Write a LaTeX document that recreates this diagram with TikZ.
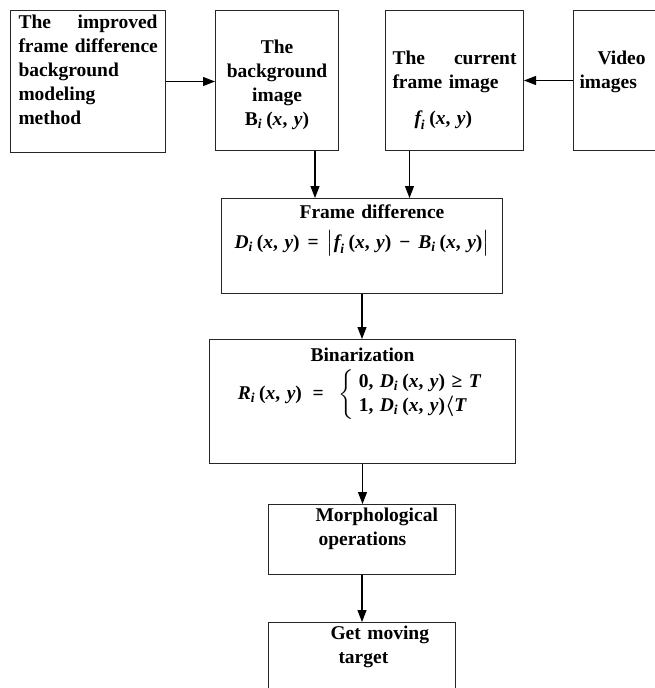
\documentclass[tikz,border=0pt]{standalone}
\usepackage{amsmath}
\usepackage{fontspec}
\setmainfont{Liberation Serif}
\usetikzlibrary{arrows.meta, positioning, calc}

\newcommand{\vi}[1]{\textit{#1}}
\newcommand{\xyarg}{\textup{(}\vi{x}\textup{, }\vi{y}\textup{)}}

\tikzset{
  procbox/.style={draw=black!85, line width=1pt, anchor=north west, inner ysep=0pt,
    font=\bfseries\fontsize{19.5}{24}\selectfont},
  flow/.style={-{Triangle[length=12pt,width=9pt]}, line width=1.1pt}
}

\begin{document}
\begin{tikzpicture}[x=1pt, y=-1pt]
		\useasboundingbox (0,0) rectangle (655,688);
		
		\node[procbox, inner xsep=8pt, text width=139pt, align=left, text height=18pt, text depth=124pt] (improved) at (10,10)
			{The\hfill improved\\\mbox{frame difference}\\background\\modeling\\method};
		\node[procbox, inner xsep=4pt, text width=115pt, align=center, text height=43pt, text depth=97pt] (background) at (215,10)
			{The\\background\\image\\{\boldmath$\textup{B}_{\vi{i}}\,\xyarg$}};
		\node[procbox, inner xsep=7pt, text width=124pt, align=left, text height=54pt, text depth=86pt] (current) at (385,10)
			{The\hfill current\\frame image\\[12pt]\hspace*{22pt}{\boldmath$\vi{f}_{\vi{i}}\,\xyarg$}};
		\node[procbox, inner xsep=6pt, text width=88pt, align=left, text height=54pt, text depth=86pt] (video) at (573,10)
			{\hspace*{18pt}Video\\images};
		\node[procbox, inner xsep=5pt, text width=271pt, align=center, text height=20pt, text depth=75pt] (fd) at (221,198)
			{\hspace*{20pt}Frame difference\\[6pt]{\boldmath$\vi{D}_{\vi{i}}\,\xyarg\;\textup{=}\;\bigl|\vi{f}_{\vi{i}}\,\xyarg\;\textup{−}\;\vi{B}_{\vi{i}}\,\xyarg\bigr|$}};
		\node[procbox, inner xsep=5pt, text width=296pt, align=center, text height=22pt, text depth=102pt] (bin) at (209,339)
			{Binarization\\[7pt]{\boldmath$\vi{R}_{\vi{i}}\,\xyarg\;\textup{=}\;\left\{\begin{array}{l}\textup{0, }\vi{D}_{\vi{i}}\,\xyarg\;\textup{≥}\;\vi{T}\\\textup{1, }\vi{D}_{\vi{i}}\,\xyarg\langle\vi{T}\end{array}\right.$}};
		\node[procbox, inner xsep=6pt, text width=175pt, align=left, text height=17pt, text depth=53pt] (morph) at (268,504)
			{\hspace*{41pt}Morphological\\\hspace*{44pt}operations};
		\node[procbox, inner xsep=6pt, text width=175pt, align=left, text height=17pt, text depth=80pt] (target) at (268,622)
			{\hspace*{56pt}Get moving\\\hspace*{64pt}target};
		
		\draw[flow] (improved.east) -- (improved.east -| background.west);
		\draw[flow] (video.west) -- (video.west -| current.east);
		\draw[flow] ([xshift=38pt]background.south) -- ([xshift=38pt]background.south |- fd.north);
		\draw[flow] ([xshift=-45pt]current.south) -- ([xshift=-45pt]current.south |- fd.north);
		\draw[flow] (fd.south) -- (fd.south |- bin.north);
		\draw[flow] (bin.south) -- (bin.south |- morph.north);
		\draw[flow] (morph.south) -- (target.north);
		
\end{tikzpicture}
\end{document}
